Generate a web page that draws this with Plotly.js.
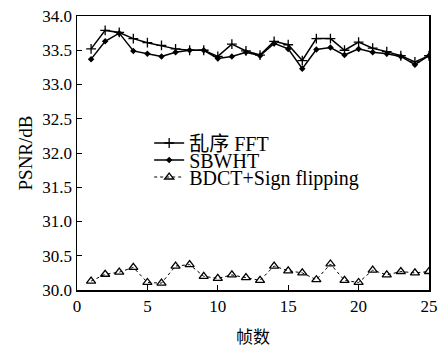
<!DOCTYPE html>
<html>
<head>
<meta charset="utf-8">
<script src="https://cdn.plot.ly/plotly-3.0.1.min.js"></script>
<style>html,body{margin:0;padding:0;background:#fff;}#chart{width:446px;height:351px;}</style>
</head>
<body>
<div id="chart"></div>
<script>
var frames = [1,2,3,4,5,6,7,8,9,10,11,12,13,14,15,16,17,18,19,20,21,22,23,24,25];
var fftValues = [33.52,33.79,33.76,33.67,33.61,33.57,33.52,33.50,33.50,33.41,33.59,33.49,33.43,33.63,33.58,33.35,33.67,33.67,33.50,33.62,33.53,33.48,33.42,33.33,33.42];
var sbwhtValues = [33.37,33.63,33.75,33.49,33.45,33.41,33.47,33.50,33.50,33.38,33.41,33.47,33.42,33.60,33.52,33.23,33.51,33.54,33.43,33.52,33.47,33.45,33.41,33.29,33.42];
var bdctValues = [30.13,30.23,30.26,30.33,30.11,30.10,30.35,30.37,30.20,30.17,30.22,30.18,30.14,30.35,30.28,30.25,30.15,30.38,30.14,30.11,30.29,30.22,30.27,30.25,30.27];
var seriesNames = ['乱序 FFT','SBWHT','BDCT+Sign flipping'];
var xTitle = '帧数';
var yTitle = 'PSNR/dB';

var serif = '"Liberation Serif","Times New Roman","Noto Sans CJK SC",serif';

var traces = [
  {x: frames, y: fftValues, name: seriesNames[0], mode: 'lines+markers', legend: 'legend',
   line: {color: '#000', width: 1.5},
   marker: {symbol: 'cross-thin', size: 7, color: '#000', line: {color: '#000', width: 1.3}}},
  {x: frames, y: sbwhtValues, name: seriesNames[1], mode: 'lines+markers', legend: 'legend2',
   line: {color: '#000', width: 1.5},
   marker: {symbol: 'diamond', size: 5, color: '#000'}},
  {x: frames, y: bdctValues, name: seriesNames[2], mode: 'lines+markers', legend: 'legend3',
   line: {color: '#000', width: 1, dash: 'dot'},
   marker: {symbol: 'triangle-up-open', size: 8, color: '#000', line: {color: '#000', width: 1.3}}}
];

function leg(y) {
  return {x: 0.205, y: y, xanchor: 'left', yanchor: 'middle', bgcolor: 'rgba(0,0,0,0)',
          font: {family: serif, size: 20, color: '#000'}, tracegroupgap: 0};
}

var layout = {
  width: 446, height: 351,
  margin: {l: 77, r: 17, t: 16, b: 61},
  paper_bgcolor: '#fff', plot_bgcolor: '#fff',
  font: {family: serif, size: 17, color: '#000'},
  showlegend: true,
  legend: leg(0.5365),
  legend2: leg(0.4745),
  legend3: leg(0.4124),
  xaxis: {range: [0, 25], dtick: 5, tick0: 0, ticks: 'inside', ticklen: 5, tickcolor: '#000',
          showline: true, linecolor: '#000', linewidth: 1.5, mirror: true, showgrid: false, zeroline: false,
          title: {text: xTitle, font: {family: '"Noto Sans CJK SC",serif', size: 17}, standoff: 16}},
  yaxis: {range: [30, 34], dtick: 0.5, tick0: 30, tickformat: '.1f', ticks: 'inside', ticklen: 5, tickcolor: '#000',
          showline: true, linecolor: '#000', linewidth: 1.5, mirror: true, showgrid: false, zeroline: false,
          title: {text: yTitle, font: {family: serif, size: 19}, standoff: 4}}
};

Plotly.newPlot('chart', traces, layout, {displayModeBar: false, staticPlot: true});
</script>
</body>
</html>
